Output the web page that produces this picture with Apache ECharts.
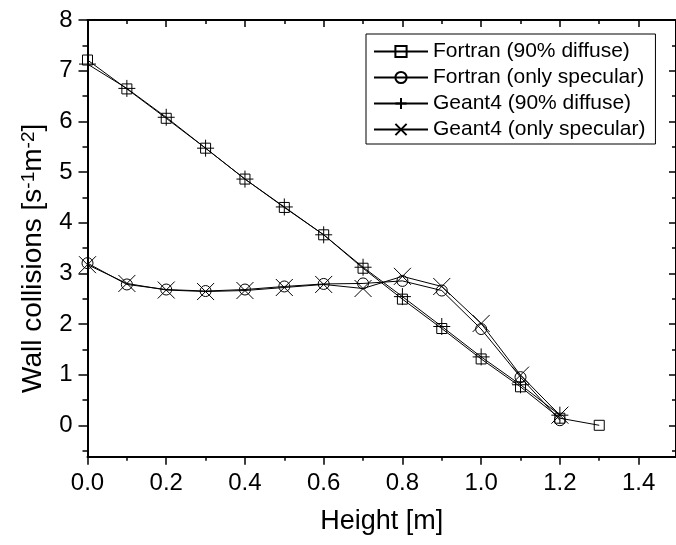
<!DOCTYPE html>
<html>
<head>
<meta charset="utf-8">
<script src="https://cdn.jsdelivr.net/npm/echarts@6/dist/echarts.min.js"></script>
<style>
html,body{margin:0;padding:0;background:#fff;}
#chart{width:676px;height:545px;}
</style>
</head>
<body>
<div id="chart"></div>
<script>
// ---- data ----
const heights = [0.0, 0.1, 0.2, 0.3, 0.4, 0.5, 0.6, 0.7, 0.8, 0.9, 1.0, 1.1, 1.2, 1.3];
const fortranDiffuse  = [7.21, 6.64, 6.06, 5.47, 4.86, 4.30, 3.76, 3.10, 2.49, 1.91, 1.31, 0.76, 0.14, 0.00];
const fortranSpecular = [3.20, 2.78, 2.68, 2.65, 2.68, 2.74, 2.79, 2.80, 2.85, 2.66, 1.90, 0.95, 0.10];
const geantDiffuse    = [7.13, 6.65, 6.08, 5.47, 4.86, 4.31, 3.76, 3.12, 2.54, 1.95, 1.35, 0.80, 0.20];
const geantSpecular   = [3.17, 2.80, 2.67, 2.64, 2.66, 2.72, 2.78, 2.70, 2.94, 2.74, 2.01, 0.99, 0.20];
const seriesNames = ['Fortran (90% diffuse)', 'Fortran (only specular)', 'Geant4 (90% diffuse)', 'Geant4 (only specular)'];
const xTickLabels = ['0.0', '0.2', '0.4', '0.6', '0.8', '1.0', '1.2', '1.4'];
const xMinorTicks = [0.1, 0.3, 0.5, 0.7, 0.9, 1.1, 1.3];
const yTickLabels = ['0', '1', '2', '3', '4', '5', '6', '7', '8'];
const yMinorTicks = [-0.5, 0.5, 1.5, 2.5, 3.5, 4.5, 5.5, 6.5, 7.5];

const FONT = 'Liberation Sans, Arial, sans-serif';
const xMajor = xTickLabels.map(parseFloat);
const yMajor = yTickLabels.map(parseFloat);
const pairs = ys => ys.map((v, i) => [heights[i], v]);

const XMIN = 0, XMAX = 1.495, YMIN = -0.62, YMAX = 8;

function xAx(pos, values, len, inside, withLabel, showLine) {
  return {
    type: 'value', position: pos, min: XMIN, max: XMAX,
    axisLine: {show: showLine, onZero: false, lineStyle: {color: '#000', width: 2}},
    axisTick: {show: true, inside: inside, length: len, customValues: values, lineStyle: {color: '#000', width: 1.5}},
    axisLabel: withLabel ? {show: true, customValues: values, formatter: v => v.toFixed(1), fontSize: 24, margin: 15, color: '#000', fontFamily: FONT} : {show: false},
    splitLine: {show: false}
  };
}
function yAx(pos, values, len, inside, withLabel, showLine) {
  return {
    type: 'value', position: pos, min: YMIN, max: YMAX,
    axisLine: {show: showLine, onZero: false, lineStyle: {color: '#000', width: 2}},
    axisTick: {show: true, inside: inside, length: len, customValues: values, lineStyle: {color: '#000', width: 1.5}},
    axisLabel: withLabel ? {show: true, customValues: values, formatter: v => String(Math.round(v)), fontSize: 24, margin: 15, color: '#000', fontFamily: FONT} : {show: false},
    splitLine: {show: false}
  };
}

const xAxes = [
  Object.assign(xAx('bottom', xMajor, 8, false, true, true), {
    name: 'Height [m]', nameLocation: 'middle', nameGap: 51,
    nameTextStyle: {fontSize: 27, color: '#000', fontFamily: FONT}
  }),
  xAx('bottom', xMinorTicks, 4, false, false, false),
  xAx('top', xMajor, 7, true, false, true),
  xAx('top', xMinorTicks, 4, true, false, false)
];
const yAxes = [
  Object.assign(yAx('left', yMajor, 9, false, true, true), {
    name: '{a|Wall collisions [s}{b|-1}{a|m}{b|-2}{a|]}', nameLocation: 'middle', nameGap: 40,
    nameTextStyle: {
      color: '#000', fontFamily: FONT, padding: [0, 40, 0, 0],
      rich: {
        a: {fontSize: 28, color: '#000', fontFamily: FONT},
        b: {fontSize: 19, color: '#000', fontFamily: FONT, verticalAlign: 'top'}
      }
    }
  }),
  yAx('left', yMinorTicks, 5, false, false, false),
  yAx('right', yMajor, 7, true, false, true),
  yAx('right', yMinorTicks, 4, true, false, false)
];

const plusPath = 'path://M0,5 L10,5 M5,0 L5,10';
const crossPath = 'path://M0,0 L10,10 M10,0 L0,10';

function mkSeries(name, ys, symbol, size) {
  return {
    name: name, type: 'line', data: pairs(ys),
    xAxisIndex: 0, yAxisIndex: 0,
    symbol: symbol, symbolSize: size, showAllSymbol: true,
    lineStyle: {color: '#000', width: 1},
    itemStyle: {color: 'rgba(255,255,255,0)', borderColor: '#000', borderWidth: 1},
    emphasis: {disabled: true},
    animation: false, z: 2
  };
}

const chart = echarts.init(document.getElementById('chart'), null, {renderer: 'canvas'});
chart.setOption({
  backgroundColor: '#fff',
  animation: false,
  grid: {left: 87.5, top: 20, width: 592, height: 436.7, containLabel: false},
  xAxis: xAxes,
  yAxis: yAxes,
  legend: {
    orient: 'vertical', left: 366, top: 34,
    padding: [7, 10, 4, 7],
    itemWidth: 54, itemHeight: 14, itemGap: 5,
    borderColor: '#000', borderWidth: 1, backgroundColor: '#fff',
    textStyle: {fontSize: 21, color: '#000', fontFamily: FONT},
    data: seriesNames,
    selectedMode: false
  },
  series: [
    mkSeries(seriesNames[0], fortranDiffuse, 'rect', 10),
    mkSeries(seriesNames[1], fortranSpecular, 'circle', 11),
    mkSeries(seriesNames[2], geantDiffuse, plusPath, 17),
    mkSeries(seriesNames[3], geantSpecular, crossPath, 17)
  ]
});
</script>
</body>
</html>
